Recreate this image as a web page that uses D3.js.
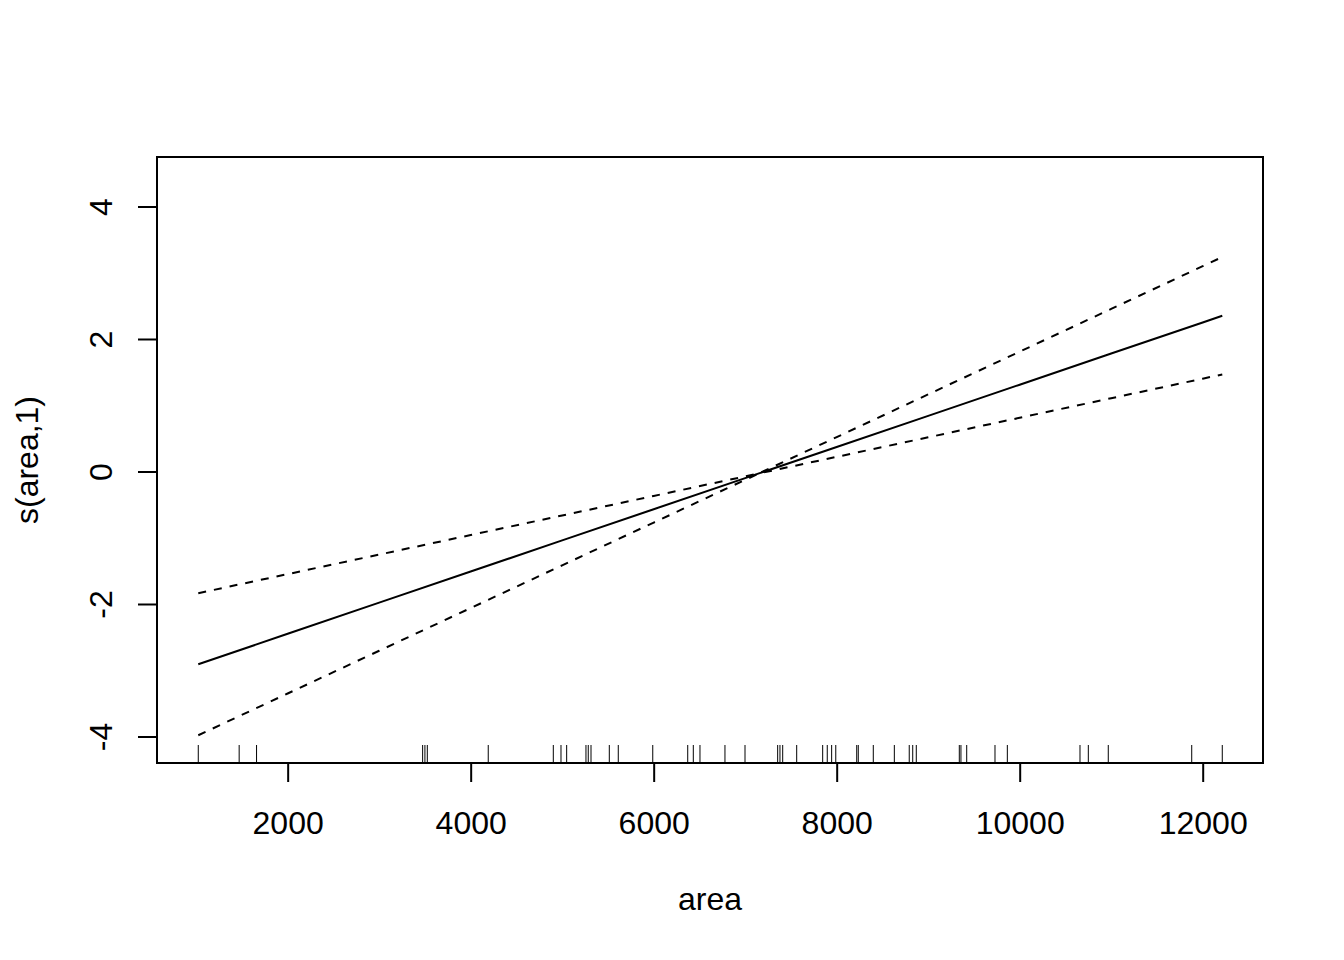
<!DOCTYPE html>
<html>
<head>
<meta charset="utf-8">
<script src="https://cdn.jsdelivr.net/npm/d3@7"></script>
<style>
  html, body { margin: 0; padding: 0; background: #fff; }
  text { font-family: "Liberation Sans", Arial, sans-serif; fill: #000; }
</style>
</head>
<body>
<svg id="chart" width="1344" height="960"></svg>
<script>
// ---- data ----
const gridX   = [1023, 2000, 3000, 4000, 5000, 6000, 7000, 7150, 8000, 9000, 10000, 11000, 12000, 12214];
const fitY    = [-2.909, -2.450, -1.980, -1.510, -1.040, -0.570, -0.100, -0.029, 0.370, 0.840, 1.310, 1.780, 2.250, 2.351];
const upperY  = [-1.837, -1.549, -1.254, -0.959, -0.664, -0.369, -0.074, -0.029, 0.519, 1.164, 1.809, 2.454, 3.099, 3.237];
const lowerY  = [-3.981, -3.351, -2.706, -2.061, -1.416, -0.771, -0.126, -0.029, 0.221, 0.516, 0.811, 1.106, 1.401, 1.465];
const rugX    = [1023, 1470, 1660, 3475, 3500, 3526, 4192, 4903, 4987, 5049, 5260, 5285, 5315, 5515, 5613,
                 5990, 6372, 6433, 6506, 6779, 6998, 7355, 7380, 7410, 7563, 7847, 7897, 7945, 7990,
                 8219, 8236, 8400, 8630, 8793, 8831, 8870, 9340, 9358, 9421, 9730, 9865,
                 10659, 10750, 10968, 11880, 12214];
const xTicks  = [2000, 4000, 6000, 8000, 10000, 12000];
const yTicks  = [-4, -2, 0, 2, 4];
const xLabel  = "area";
const yLabel  = "s(area,1)";

// ---- layout ----
const svg = d3.select("#chart");
const L = 157, R = 1263, T = 157, B = 763;
const x = d3.scaleLinear().domain([572, 12659]).range([L, R]);
const y = d3.scaleLinear().domain([-4.40, 4.747]).range([B, T]);
const FS = 32;
const fmt = d => String(d); // plain hyphen minus, as in R

// box
svg.append("rect").attr("x", L).attr("y", T).attr("width", R - L).attr("height", B - T)
  .attr("fill", "none").attr("stroke", "#000").attr("stroke-width", 2);

// x axis (R style: line spans first to last tick)
const xAxis = d3.axisBottom(x).tickValues(xTicks).tickSize(19).tickPadding(0).tickFormat(fmt);
const gx = svg.append("g").attr("transform", `translate(0,${B})`).call(xAxis);
gx.select(".domain").attr("d", `M${x(xTicks[0])},0H${x(xTicks[xTicks.length-1])}`).attr("stroke-width", 2);
gx.selectAll(".tick line").attr("stroke-width", 2);
gx.selectAll(".tick text").attr("font-size", FS).attr("font-family", "Liberation Sans, Arial, sans-serif")
  .attr("y", 71).attr("dy", 0);

const yAxis = d3.axisLeft(y).tickValues(yTicks).tickSize(19).tickPadding(0).tickFormat(fmt);
const gy = svg.append("g").attr("transform", `translate(${L},0)`).call(yAxis);
gy.select(".domain").attr("d", `M0,${y(yTicks[0])}V${y(yTicks[yTicks.length-1])}`).attr("stroke-width", 2);
gy.selectAll(".tick line").attr("stroke-width", 2);
gy.selectAll(".tick text").attr("font-size", FS).attr("font-family", "Liberation Sans, Arial, sans-serif")
  .attr("x", 0).attr("dy", 0).attr("text-anchor", "middle")
  .attr("transform", "translate(-45,0) rotate(-90)");

// axis titles
svg.append("text").attr("x", (L + R) / 2).attr("y", 910).attr("text-anchor", "middle")
  .attr("font-size", FS).text(xLabel);
svg.append("text").attr("transform", `translate(38,${(T + B) / 2}) rotate(-90)`).attr("text-anchor", "middle")
  .attr("font-size", FS).text(yLabel);

// lines
const pts = (ys) => gridX.map((g, i) => [g, ys[i]]);
const line = d3.line().x(d => x(d[0])).y(d => y(d[1]));
svg.append("path").attr("d", line(pts(fitY))).attr("fill", "none").attr("stroke", "#000").attr("stroke-width", 2);
svg.append("path").attr("d", line(pts(upperY))).attr("fill", "none").attr("stroke", "#000").attr("stroke-width", 2)
  .attr("stroke-dasharray", "8,8");
svg.append("path").attr("d", line(pts(lowerY))).attr("fill", "none").attr("stroke", "#000").attr("stroke-width", 2)
  .attr("stroke-dasharray", "8,8");

// rug
svg.append("g").selectAll("line").data(rugX).join("line")
  .attr("x1", d => x(d)).attr("x2", d => x(d))
  .attr("y1", B).attr("y2", B - 18)
  .attr("stroke", "#000").attr("stroke-width", 1);
</script>
</body>
</html>
